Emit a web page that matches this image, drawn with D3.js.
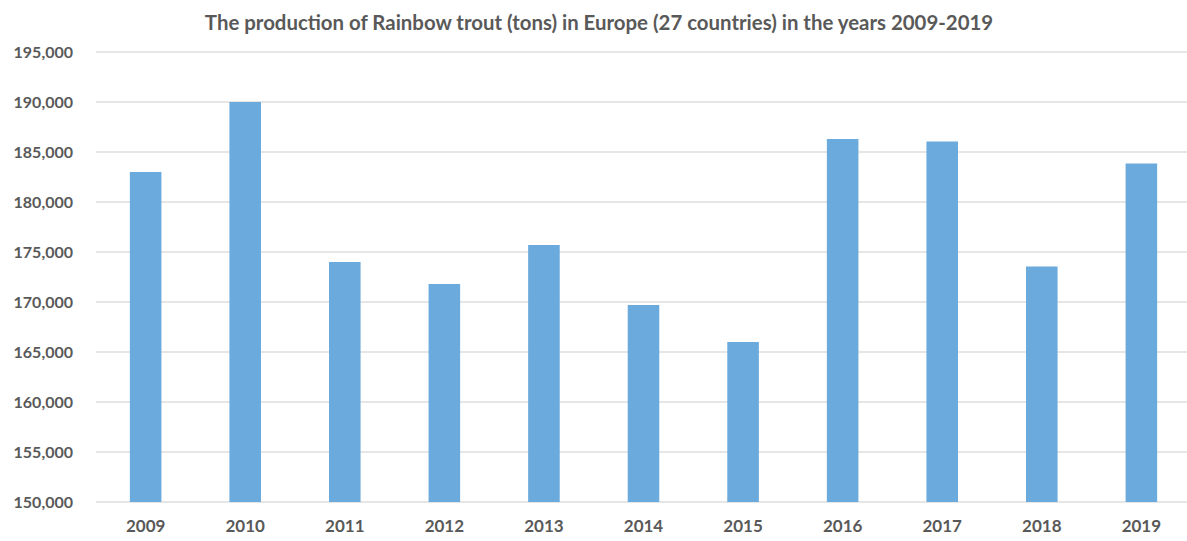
<!DOCTYPE html>
<html>
<head>
<meta charset="utf-8">
<script src="https://cdn.jsdelivr.net/npm/d3@7"></script>
<style>
  body { margin: 0; background: #fff; }
  text { font-family: Lato, "Open Sans", sans-serif; font-weight: bold; fill: #595959; }
</style>
</head>
<body>
<div id="chart"></div>
<script>
// Data
var years = ["2009", "2010", "2011", "2012", "2013", "2014", "2015", "2016", "2017", "2018", "2019"];
var production = [183000, 190000, 174000, 171800, 175700, 169700, 166000, 186300, 186050, 173550, 183850];
var yTicks = [150000, 155000, 160000, 165000, 170000, 175000, 180000, 185000, 190000, 195000];
var title = "The production of Rainbow trout (tons) in Europe (27 countries) in the years 2009-2019";

var W = 1187, H = 541;
var margin = {top: 52, right: -4, bottom: 39, left: 96};
var width = W - margin.left - margin.right;
var height = H - margin.top - margin.bottom;

var svg = d3.select("#chart").append("svg")
    .attr("width", W)
    .attr("height", H);

var g = svg.append("g")
    .attr("transform", "translate(" + margin.left + "," + margin.top + ")");

// Scales
var xScale = d3.scaleBand()
    .domain(years)
    .range([0, width])
    .paddingInner(0.683)
    .paddingOuter(0.34);

var yScale = d3.scaleLinear()
    .domain([150000, 195000])
    .range([height, 0]);

// gridlines
g.selectAll("line.grid")
    .data(yTicks)
    .enter().append("line")
    .attr("class", "grid")
    .attr("x1", 0)
    .attr("x2", width)
    .attr("y1", function (d) { return yScale(d); })
    .attr("y2", function (d) { return yScale(d); })
    .attr("stroke", "#dedede")
    .attr("stroke-width", 1.5);

// bars
g.selectAll("rect.bar")
    .data(production)
    .enter().append("rect")
    .attr("class", "bar")
    .attr("x", function (d, i) { return xScale(years[i]); })
    .attr("width", xScale.bandwidth())
    .attr("y", function (d) { return yScale(d); })
    .attr("height", function (d) { return height - yScale(d); })
    .attr("fill", "#6aaadc");

// y axis
var yAxis = g.append("g")
    .attr("transform", "translate(-20,0)")
    .call(d3.axisLeft(yScale).tickValues(yTicks).tickSize(0).tickFormat(d3.format(",")));
yAxis.select(".domain").remove();
yAxis.selectAll("text")
    .style("font-size", "16px")
    .attr("fill", "#595959");

// x axis
var xAxis = g.append("g")
    .attr("transform", "translate(0," + height + ")")
    .call(d3.axisBottom(xScale).tickSize(0).tickPadding(18));
xAxis.select(".domain").remove();
xAxis.selectAll("text")
    .style("font-size", "17px")
    .attr("fill", "#595959");

// title
svg.append("text")
    .attr("x", 599)
    .attr("y", 30)
    .attr("text-anchor", "middle")
    .style("font-size", "20.4px")
    .text(title);
</script>
</body>
</html>
